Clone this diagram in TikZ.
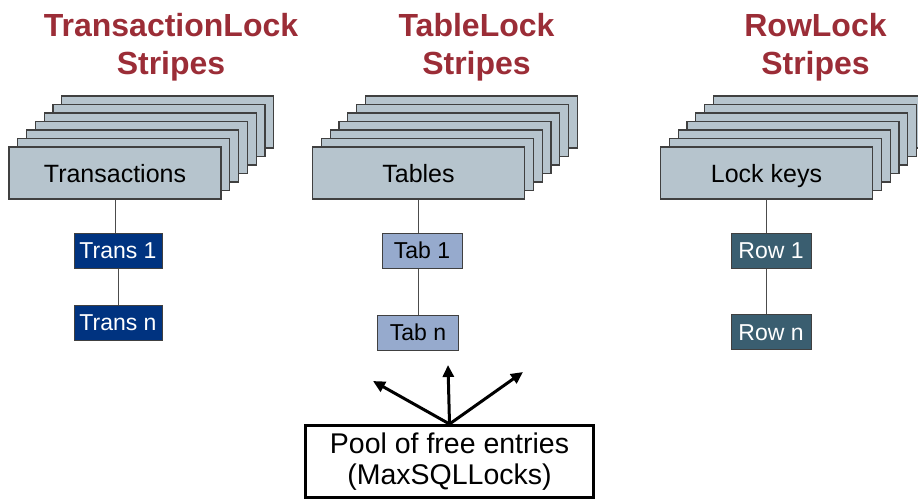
\documentclass[tikz,border=0pt]{standalone}
\usepackage{fontspec}
\setmainfont{Liberation Sans}
\usetikzlibrary{arrows.meta}
\definecolor{titlered}{RGB}{155,45,55}
\definecolor{stackgray}{RGB}{182,196,205}
\definecolor{transblue}{RGB}{0,51,128}
\definecolor{tabblue}{RGB}{150,170,205}
\definecolor{rowteal}{RGB}{58,94,112}
\tikzset{
  title/.style={font=\fontsize{32}{38}\selectfont\bfseries, text=titlered, anchor=base},
  stackbox/.style={draw=black!75, fill=stackgray, line width=1.2pt, minimum width=212pt,
    minimum height=52pt, inner sep=0pt, font=\fontsize{25}{30}\selectfont,
    text height=18pt, text depth=0pt},
  entry/.style={draw=black!75, line width=1pt, minimum height=35pt, inner sep=0pt,
    font=\fontsize{23}{28}\selectfont, text height=16.5pt, text depth=0pt},
  link/.style={draw=black!70, line width=1pt},
  fetch/.style={line width=3pt, -{Triangle[length=12pt,width=11pt]}}
}
\begin{document}
\begin{tikzpicture}[x=1pt,y=-1pt]
  \useasboundingbox (0,0) rectangle (918,501);
  % titles
  \node[title] (tl1) at (171,36) {TransactionLock};
  \node[title] (tl2) at (171,74) {Stripes};
  \node[title] (tb1) at (476.5,36) {TableLock};
  \node[title] (tb2) at (476.5,74) {Stripes};
  \node[title] (rl1) at (815.5,36) {RowLock};
  \node[title] (rl2) at (815.5,74) {Stripes};
  % stripes
  \foreach \cx/\name/\txt in {115/trans/Transactions, 418.5/tab/Tables, 766.5/row/Lock keys}{
    \foreach \i in {6,...,1}
      \node[stackbox] at (\cx+8.8*\i, 173-8.5*\i) {};
    \node[stackbox] (\name) at (\cx,173) {\txt};
  }
  % entries
  \node[entry, fill=transblue, text=white, minimum width=88pt] (trans1) at (118,250.5) {Trans 1};
  \node[entry, fill=transblue, text=white, minimum width=88pt] (transn) at (118,322.5) {Trans n};
  \node[entry, fill=tabblue, minimum width=80pt] (tab1) at (422,250.5) {Tab 1};
  \node[entry, fill=tabblue, minimum width=81pt] (tabn) at (418,332.5) {Tab n};
  \node[entry, fill=rowteal, text=white, minimum width=80pt] (row1) at (771,250.5) {Row 1};
  \node[entry, fill=rowteal, text=white, minimum width=80pt] (rown) at (771,332) {Row n};
  \draw[link] (trans.south) -- (trans.south |- trans1.north);
  \draw[link] (trans1) -- (transn);
  \draw[link] (tab.south) -- (tab.south |- tab1.north);
  \draw[link] (tab1.south -| tab.south) -- (tabn.north -| tab.south);
  \draw[link] (row.south) -- (row.south |- row1.north);
  \draw[link] (row1.south -| row.south) -- (rown.north -| row.south);
  % pool
  \node[draw, line width=3pt, minimum width=288pt, minimum height=72pt, align=center,
    font=\fontsize{28.5}{31}\selectfont] (pool) at (449.5,461.5) {Pool of free entries\\(MaxSQLLocks)};
  \coordinate (p1) at (373,381);
  \coordinate (p2) at (448,365);
  \coordinate (p3) at (523,372);
  \foreach \p in {p1,p2,p3}
    \draw[fetch] (pool.north) -- (\p);
\end{tikzpicture}
\end{document}
